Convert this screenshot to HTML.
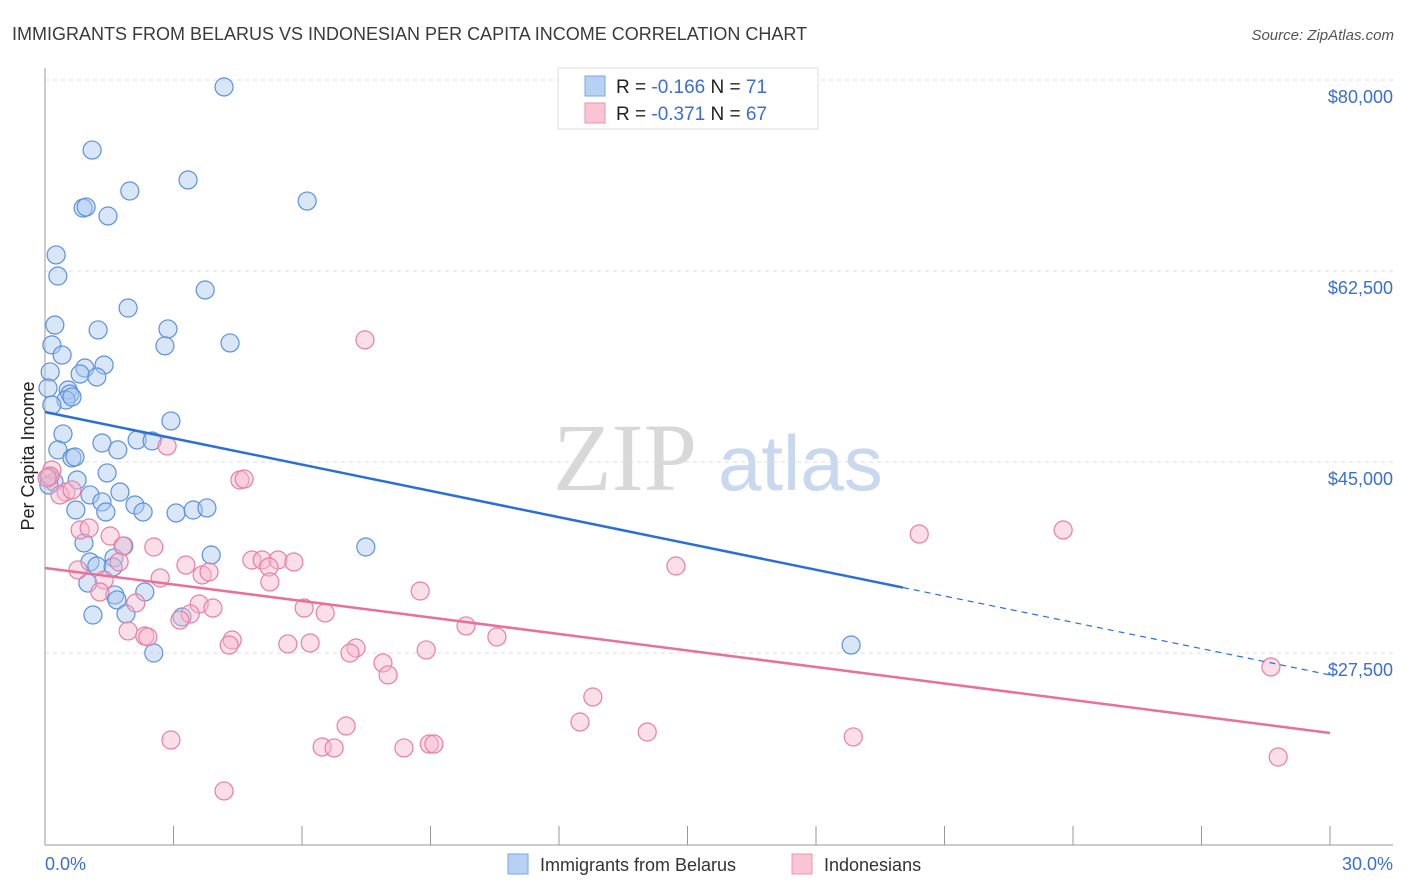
<!DOCTYPE html>
<html><head><meta charset="utf-8"><style>
body{margin:0;background:#fff;font-family:"Liberation Sans",sans-serif}
svg{display:block}
</style></head><body>
<svg id="chart" width="1406" height="892" xmlns="http://www.w3.org/2000/svg">
<text x="12" y="40" font-size="18" fill="#3a3a3a">IMMIGRANTS FROM BELARUS VS INDONESIAN PER CAPITA INCOME CORRELATION CHART</text>
<text x="1394" y="40" font-size="15" fill="#555" font-style="italic" text-anchor="end">Source: ZipAtlas.com</text>
<g>
<text x="553" y="490" font-size="96" fill="#d8d8d8" font-family="Liberation Serif,serif">ZIP</text>
<text x="718" y="490" font-size="78" fill="#c8d8ee">atlas</text>
</g>
<g id="grid"></g>
<g id="axes"></g>
<g id="points"></g>
<g id="trends"></g>
<text transform="translate(34,456) rotate(-90)" font-size="18" fill="#222" text-anchor="middle">Per Capita Income</text>
<text x="45" y="870" font-size="18" fill="#3a6fd0">0.0%</text>
<text x="1393" y="870" font-size="18" fill="#3a6fd0" text-anchor="end">30.0%</text>
<g>
<rect x="558" y="68" width="260" height="61" fill="#fff" stroke="#ddd"/>
<rect x="585" y="76" width="20" height="20" fill="#b8d0f4" stroke="#7aa6e6"/>
<rect x="585" y="103" width="20" height="20" fill="#f9c4d4" stroke="#ec94b0"/>
<text x="616" y="93" font-size="19" fill="#222">R = <tspan fill="#3a6fd0">-0.166</tspan>   N =  <tspan fill="#3a6fd0">71</tspan></text>
<text x="616" y="120" font-size="19" fill="#222">R = <tspan fill="#3a6fd0">-0.371</tspan>   N = <tspan fill="#3a6fd0">67</tspan></text>
</g>
<g>
<rect x="508" y="854" width="20" height="20" fill="#b8d0f4" stroke="#7aa6e6"/>
<text x="540" y="871" font-size="18" fill="#333">Immigrants from Belarus</text>
<rect x="792" y="854" width="20" height="20" fill="#f9c4d4" stroke="#ec94b0"/>
<text x="824" y="871" font-size="18" fill="#333">Indonesians</text>
</g>
</svg>
<script>
const yTicks=[80000,62500,45000,27500];
const yTickLabels=["$80,000","$62,500","$45,000","$27,500"];
const xTicks=[0,3,6,9,12,15,18,21,24,27,30];
const blueX=[4.18,1.10,3.34,1.98,0.89,0.96,1.47,6.12,0.26,0.30,3.74,1.94,0.23,1.24,2.87,0.16,2.80,4.32,0.40,0.12,1.38,0.93,0.82,1.21,0.54,0.58,0.07,0.49,0.63,0.16,2.94,0.42,1.33,2.15,2.50,1.70,0.30,0.63,0.70,1.45,0.09,0.75,1.05,1.75,0.21,1.33,0.72,1.42,2.10,2.29,3.06,3.46,3.78,7.49,1.84,3.88,1.05,1.61,1.21,1.59,1.00,1.63,2.33,1.68,1.89,1.12,3.20,2.54,18.82,0.91,0.09];
const blueY=[79.36,73.58,70.84,69.83,68.27,68.36,67.54,68.91,63.97,62.04,60.76,59.11,57.55,57.10,57.19,55.73,55.64,55.91,54.80,53.25,53.89,53.61,53.06,52.79,51.60,51.23,51.78,50.68,50.96,50.22,48.76,47.57,46.74,47.02,46.93,46.11,46.11,45.37,45.46,44.00,43.63,43.35,41.98,42.25,43.17,41.34,40.60,40.42,41.06,40.42,40.33,40.60,40.79,37.21,37.31,36.48,35.84,36.21,35.47,35.38,33.91,32.82,33.09,32.36,31.08,30.98,30.80,27.50,28.23,37.58,42.89];
const pinkX=[7.47,2.85,4.55,4.65,0.16,0.12,0.49,0.35,0.63,0.82,1.03,1.52,1.82,2.54,0.77,1.38,1.73,3.29,2.69,3.67,3.83,4.83,5.07,5.44,5.81,5.23,5.25,1.28,2.12,3.60,3.92,3.39,3.15,6.05,6.54,8.76,9.83,10.55,1.94,2.33,2.40,4.37,4.30,5.67,6.19,7.26,7.12,8.90,7.89,8.01,14.73,20.41,23.77,12.79,12.49,7.03,14.06,18.87,2.94,6.47,6.75,8.38,8.97,9.08,4.18,28.62,28.79,0.05];
const pinkY=[56.19,46.47,43.35,43.44,44.27,43.72,42.25,41.98,42.44,38.77,38.95,38.22,37.31,37.21,35.11,34.19,35.84,35.56,34.37,34.65,34.92,36.02,36.02,36.02,35.84,35.38,34.01,33.09,32.08,31.99,31.62,31.08,30.52,31.62,31.17,33.18,29.98,28.97,29.52,29.06,28.97,28.69,28.23,28.33,28.42,27.96,27.50,27.78,26.59,25.49,35.47,38.40,38.77,23.47,21.18,20.81,20.26,19.81,19.53,18.89,18.80,18.80,19.16,19.16,14.86,26.22,17.97,43.54];
const blueTrend=[49.58,25.49]; // value at 0% and 30% (thousands)
const blueSolidEnd=20.03;
const pinkTrend=[35.29,20.17];
const NS="http://www.w3.org/2000/svg";
const sx=p=>45+p*(1330-45)/30;
const sy=v=>80+(80-v)*191/17.5;
const syD=v=>80+(80000-v)*191/17500;
function mk(tag,attrs,parent){const e=document.createElementNS(NS,tag);for(const k in attrs)e.setAttribute(k,attrs[k]);parent.appendChild(e);return e;}
const grid=document.getElementById('grid'),axes=document.getElementById('axes'),pts=document.getElementById('points'),tr=document.getElementById('trends');
yTicks.forEach((t,i)=>{
 const l=mk('line',{x1:45,x2:1393,y1:syD(t),y2:syD(t),stroke:'#ddd','stroke-dasharray':'4,4'},grid);
 
 
 const tx=mk('text',{x:1393,y:syD(t)+23,'font-size':18,fill:'#3a6fd0','text-anchor':'end'},grid);
 tx.textContent=yTickLabels[i];
 
 
});
const ya=mk('line',{x1:45,x2:45,y1:68,y2:845,stroke:'#999'},axes);


const xa=mk('line',{x1:45,x2:1393,y1:845,y2:845,stroke:'#999'},axes);


xTicks.forEach(t=>{
 const l=mk('line',{x1:sx(t),x2:sx(t),y1:826,y2:845,stroke:'#999'},axes);
 
 
});
function drawPts(X,Y,fill,stroke,name){
 X.forEach((x,i)=>{
  const c=mk('circle',{cx:sx(x),cy:sy(Y[i]),r:9,fill:fill,'fill-opacity':0.45,stroke:stroke,'stroke-width':1.2},pts);
  
  
 });
}
drawPts(blueX,blueY,'#a9c7f0','#5b91dd','point-belarus');
drawPts(pinkX,pinkY,'#f7b8cb','#e87fa2','point-indonesians');
const bslope=(blueTrend[1]-blueTrend[0])/30;
const bl=mk('line',{x1:sx(0),y1:sy(blueTrend[0]),x2:sx(blueSolidEnd),y2:sy(blueTrend[0]+bslope*blueSolidEnd),stroke:'#2a6fd6','stroke-width':2.5},tr);


const bd=mk('line',{x1:sx(blueSolidEnd),y1:sy(blueTrend[0]+bslope*blueSolidEnd),x2:sx(30),y2:sy(blueTrend[1]),stroke:'#2a6fd6','stroke-width':1.2,'stroke-dasharray':'6,5'},tr);


const pl=mk('line',{x1:sx(0),y1:sy(pinkTrend[0]),x2:sx(30),y2:sy(pinkTrend[1]),stroke:'#e8709a','stroke-width':2.5},tr);


</script>
</body></html>
